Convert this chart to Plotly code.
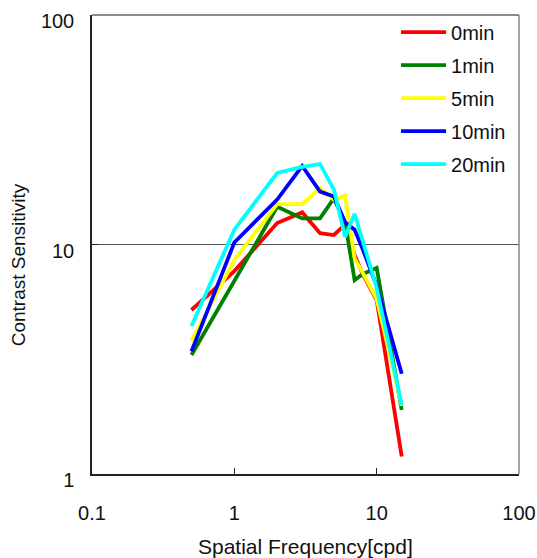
import plotly.graph_objects as go

freq = [0.5, 1, 2, 3, 4, 5, 6, 7, 8, 10, 15]
series_names = ["0min", "1min", "5min", "10min", "20min"]
cs_0min = [5.18, 7.66, 12.4, 13.8, 11.2, 11.0, 12.2, 9.0, 7.4, 5.73, 1.19]
cs_1min = [3.30, 6.93, 14.6, 13.0, 13.0, 15.9, 12.5, 7.0, 7.44, 7.9, 1.90]
cs_5min = [3.80, 8.56, 15.0, 15.0, 17.6, 15.7, 16.3, 8.7, 7.5, 5.8, 1.98]
cs_10min = [3.42, 10.2, 15.7, 22.0, 17.0, 16.2, 12.5, 11.6, 9.5, 6.6, 2.73]
cs_20min = [4.41, 11.6, 20.5, 21.8, 22.4, 17.4, 10.8, 13.6, 10.3, 6.47, 2.0]
colors = ["#FF0000", "#008000", "#FFFF00", "#0000FF", "#00FFFF"]

x_tickvals = [0.1, 1, 10, 100]
x_ticktext = ["0.1", "1", "10", "100"]
y_tickvals = [1, 10, 100]
y_ticktext = ["1", "10", "100"]

FONT = "Liberation Sans, Arial, sans-serif"

fig = go.Figure()
for name, ys, c in zip(series_names, [cs_0min, cs_1min, cs_5min, cs_10min, cs_20min], colors):
    fig.add_trace(go.Scatter(x=freq, y=ys, mode="lines", name=name, legendgroup=name,
                             line=dict(color=c, width=3.8), cliponaxis=False))

fig.update_layout(
    width=537, height=558,
    margin=dict(l=92, r=18, t=15, b=84, autoexpand=False),
    paper_bgcolor="white", plot_bgcolor="white",
    font=dict(family=FONT, size=20, color="#111"),
    showlegend=True,
    legend=dict(x=0.712, y=1.005, xanchor="left", yanchor="top",
                bgcolor="rgba(0,0,0,0)", tracegroupgap=4, itemwidth=45,
                font=dict(family=FONT, size=20, color="#111")),
    xaxis=dict(type="log", range=[-1, 2], tickvals=x_tickvals, ticktext=x_ticktext,
               automargin=False,
               showgrid=False, zeroline=False, showline=True, linecolor="#222", linewidth=1.5,
               ticks="inside", ticklen=6, tickcolor="#222", ticklabelstandoff=20,
               tickfont=dict(family=FONT, size=20, color="#111")),
    yaxis=dict(type="log", range=[-0.0005, 2.0005], tickvals=y_tickvals, ticktext=y_ticktext,
               automargin=False,
               showgrid=True, gridcolor="#555", gridwidth=1, zeroline=False,
               showline=True, linecolor="#222", linewidth=1.5,
               ticks="inside", ticklen=6, tickcolor="#222", ticklabelshift=6,
               ticklabelstandoff=12,
               tickfont=dict(family=FONT, size=20, color="#111")),
    shapes=[
        dict(type="line", xref="paper", yref="paper", x0=1, x1=1, y0=0, y1=1,
             line=dict(color="#888", width=1.5)),
        dict(type="line", xref="paper", yref="paper", x0=0, x1=1, y0=1, y1=1,
             line=dict(color="#666", width=1.5)),
    ],
    annotations=[
        dict(text="Spatial Frequency[cpd]", xref="paper", yref="paper", x=0.5, y=-0.159,
             xanchor="center", yanchor="middle", showarrow=False,
             font=dict(family=FONT, size=21, color="#111")),
        dict(text="Contrast Sensitivity", xref="paper", yref="paper", x=-0.173, y=0.455,
             xanchor="center", yanchor="middle", showarrow=False, textangle=-90,
             font=dict(family=FONT, size=19, color="#111")),
    ],
)

fig.write_html("out.html", config={"displayModeBar": False},
               post_script="document.body.style.margin='0px';document.body.style.padding='0px';")
